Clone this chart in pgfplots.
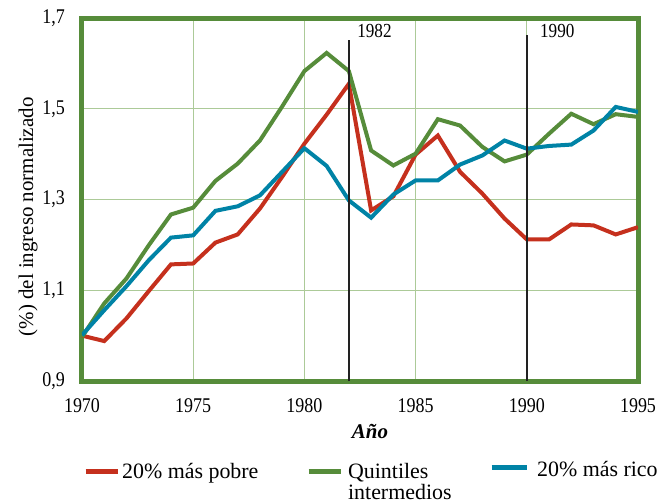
\documentclass[border=0pt]{standalone}
\usepackage{pgfplots}
\pgfplotsset{compat=1.18}
\usepackage{fontspec}
\setmainfont{Liberation Serif}
\newfontfamily\tickfont[FakeStretch=0.86]{Liberation Serif}
\definecolor{cred}{RGB}{197,48,29}
\definecolor{cgreen}{RGB}{86,140,58}
\definecolor{cblue}{RGB}{0,131,166}
\definecolor{cgrid}{RGB}{172,202,152}
\definecolor{cvline}{RGB}{34,34,34}
\begin{document}
\begin{tikzpicture}
\begin{axis}[
  name=ax, at={(0,0)}, anchor=south west,
  scale only axis, width=556bp, height=363bp,
  xmin=1970, xmax=1995, ymin=0.9, ymax=1.7,
  xtick={1970,1975,1980,1985,1990,1995},
  xticklabels={1970,1975,1980,1985,1990,1995},
  ytick={0.9,1.1,1.3,1.5,1.7},
  yticklabels={{0,9},{1,1},{1,3},{1,5},{1,7}},
  major tick length=0pt,
  xticklabel style={font=\tickfont\fontsize{21}{24}\selectfont, inner sep=0pt, anchor=north, yshift=-17bp},
  yticklabel style={font=\tickfont\fontsize{21}{24}\selectfont, inner sep=0pt, anchor=east, xshift=-17bp},
  grid=major,
  major grid style={cgrid, line width=1.3bp},
  axis line style={cgreen, line width=5bp},
  xlabel={\textbf{\textit{Año}}},
  ylabel={(\%) del ingreso normalizado},
  every axis x label/.style={at={(axis description cs:0.518,-0.14)}, anchor=center, font=\fontsize{21}{24}\selectfont},
  every axis y label/.style={at={(axis description cs:-0.097,0.452)}, rotate=90, anchor=center, font=\fontsize{21}{24}\selectfont},
  legend columns=3,
  legend image code/.code={\draw[#1, line width=5bp] (0bp,0bp) -- (32bp,0bp);},
  legend style={at={(axis description cs:0.002,-0.2205)}, anchor=north west, draw=none, fill=none,
    inner sep=0pt, outer sep=0pt, font=\fontsize{22}{20}\selectfont,
    nodes={inner sep=0pt},
    /tikz/every odd column/.append style={column sep=2bp},
    /tikz/every even column/.append style={column sep=0bp}},
  legend cell align=left,
]
\addplot[cred, line width=4bp] coordinates {
(1970,1.000)(1971,0.988)(1972,1.038)(1973,1.098)(1974,1.157)(1975,1.159)
(1976,1.205)(1977,1.223)(1978,1.280)(1979,1.350)(1980,1.423)(1981,1.487)
(1982,1.555)(1983,1.276)(1984,1.307)(1985,1.399)(1986,1.441)(1987,1.361)
(1988,1.313)(1989,1.258)(1990,1.212)(1991,1.212)(1992,1.245)(1993,1.243)
(1994,1.223)(1995,1.239)};
\addlegendentry{\makebox[184bp][l]{20\% más pobre}}
\addplot[cgreen, line width=4bp] coordinates {
(1970,0.997)(1971,1.071)(1972,1.126)(1973,1.199)(1974,1.267)(1975,1.282)
(1976,1.341)(1977,1.379)(1978,1.430)(1979,1.505)(1980,1.583)(1981,1.623)
(1982,1.583)(1983,1.408)(1984,1.375)(1985,1.401)(1986,1.477)(1987,1.463)
(1988,1.416)(1989,1.384)(1990,1.399)(1991,1.445)(1992,1.489)(1993,1.466)
(1994,1.488)(1995,1.482)};
\addlegendentry{\makebox[144bp][l]{\hspace{3bp}\raisebox{0pt}[\height][0pt]{\begin{tabular}[t]{@{}l@{}}Quintiles\\intermedios\end{tabular}}}}
\addplot[cblue, line width=4bp,
  legend image code/.code={\draw[cblue, line width=5bp] (0bp,4bp) -- (35bp,4bp);}] coordinates {
(1970,1.001)(1971,1.056)(1972,1.109)(1973,1.166)(1974,1.216)(1975,1.221)
(1976,1.275)(1977,1.285)(1978,1.309)(1979,1.361)(1980,1.413)(1981,1.374)
(1982,1.298)(1983,1.260)(1984,1.311)(1985,1.342)(1986,1.342)(1987,1.377)
(1988,1.397)(1989,1.430)(1990,1.412)(1991,1.418)(1992,1.421)(1993,1.452)
(1994,1.504)(1995,1.493)};
\addlegendentry{\hspace{6bp}\raisebox{4bp}{20\% más rico}}
\addplot[cvline, line width=2bp, forget plot] coordinates {(1982,0.9)(1982,1.652)};
\addplot[cvline, line width=2bp, forget plot] coordinates {(1990,0.9)(1990,1.663)};
\node[anchor=base west, inner sep=0pt, font=\tickfont\fontsize{20}{24}\selectfont] at (axis cs:1982.37,1.658) {1982};
\node[anchor=base west, inner sep=0pt, font=\tickfont\fontsize{20}{24}\selectfont] at (axis cs:1990.59,1.658) {1990};
\end{axis}
\pgfresetboundingbox
\path[use as bounding box] (-82bp,-121bp) rectangle (585bp,381bp);
\end{tikzpicture}
\end{document}
